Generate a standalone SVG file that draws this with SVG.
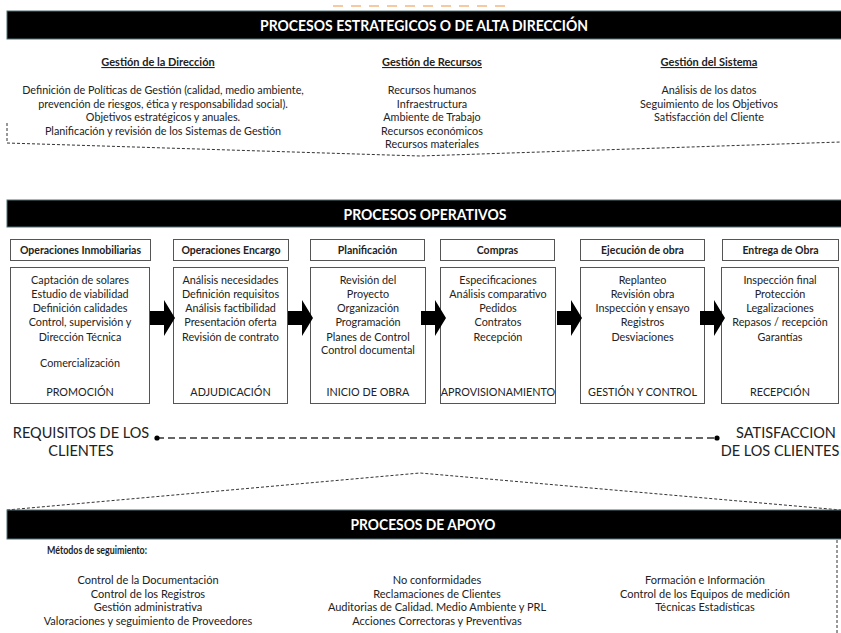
<svg xmlns="http://www.w3.org/2000/svg" width="841" height="633" viewBox="0 0 841 633">
<style>
text{font-family:Lato,"Open Sans","Liberation Sans",sans-serif;fill:#222;text-anchor:middle}
.t{font-size:10.8px}
.b{font-size:11px}
.h{font-size:11px;font-weight:bold;text-decoration:underline}
.hb{font-size:10.5px;font-weight:bold}
.ban{fill:#000;stroke:#4f6e75;stroke-width:1}
.bt{font-size:15px;font-weight:bold;fill:#fff}
.box{fill:#fff;stroke:#555;stroke-width:1}
.dash{fill:none;stroke:#333;stroke-width:1;stroke-dasharray:3,2}
.big{font-size:14.5px}
.arr{fill:#000}
</style>
<defs>
<path id="arrow" d="M0,-7 H14 V-18 L25,0 L14,18 V7 H0 Z"/>
</defs>
<rect width="841" height="633" fill="#fff"/>
<line x1="333" y1="6" x2="513" y2="6" stroke="#f7c9a0" stroke-width="2" stroke-dasharray="10,8"/>

<g id="estrategicos">
<rect class="ban" x="7" y="11" width="840" height="28"/>
<text class="bt" x="424" y="31" textLength="328" lengthAdjust="spacingAndGlyphs">PROCESOS ESTRATEGICOS O DE ALTA DIRECCIÓN</text>
</g>
<g id="gestion-direccion">
<text class="h" x="158" y="66">Gestión de la Dirección</text>
<text class="t" x="163" y="94">Definición de Políticas de Gestión (calidad, medio ambiente,</text>
<text class="t" x="163" y="107.5">prevención de riesgos, ética y responsabilidad social).</text>
<text class="t" x="163" y="121">Objetivos estratégicos y anuales.</text>
<text class="t" x="163" y="134.5">Planificación y revisión de los Sistemas de Gestión</text>
</g>
<g id="gestion-recursos">
<text class="h" x="432" y="66">Gestión de Recursos</text>
<text class="t" x="432" y="94">Recursos humanos</text>
<text class="t" x="432" y="107.5">Infraestructura</text>
<text class="t" x="432" y="121">Ambiente de Trabajo</text>
<text class="t" x="432" y="134.5">Recursos económicos</text>
<text class="t" x="432" y="148">Recursos materiales</text>
</g>
<g id="gestion-sistema">
<text class="h" x="709" y="66">Gestión del Sistema</text>
<text class="t" x="709" y="94">Análisis de los datos</text>
<text class="t" x="709" y="107.5">Seguimiento de los Objetivos</text>
<text class="t" x="709" y="121">Satisfacción del Cliente</text>
</g>

<g id="operativos">
<rect class="ban" x="7" y="200" width="840" height="27"/>
<text class="bt" x="425" y="220" textLength="163" lengthAdjust="spacingAndGlyphs">PROCESOS OPERATIVOS</text>
</g>

<g id="op-inmobiliarias">
<rect class="box" x="10.5" y="239.5" width="140" height="21"/>
<text class="hb" x="80.5" y="254">Operaciones Inmobiliarias</text>
<rect class="box" x="10.5" y="267.5" width="139" height="136"/>
<text class="t" x="80" y="284">Captación de solares</text>
<text class="t" x="80" y="298">Estudio de viabilidad</text>
<text class="t" x="80" y="312">Definición calidades</text>
<text class="t" x="80" y="326">Control, supervisión y</text>
<text class="t" x="80" y="340.5">Dirección Técnica</text>
<text class="t" x="80" y="367">Comercialización</text>
<text class="t" x="80" y="395.5">PROMOCIÓN</text>
</g>
<g id="op-encargo">
<rect class="box" x="173.5" y="239.5" width="115" height="21"/>
<text class="hb" x="231" y="254">Operaciones Encargo</text>
<rect class="box" x="173.5" y="267.5" width="114" height="136"/>
<text class="t" x="230.5" y="284">Análisis necesidades</text>
<text class="t" x="230.5" y="298">Definición requisitos</text>
<text class="t" x="230.5" y="312">Análisis factibilidad</text>
<text class="t" x="230.5" y="326">Presentación oferta</text>
<text class="t" x="230.5" y="340.5">Revisión de contrato</text>
<text class="t" x="230.5" y="395.5">ADJUDICACIÓN</text>
</g>
<g id="planificacion">
<rect class="box" x="310.5" y="239.5" width="114" height="21"/>
<text class="hb" x="367.5" y="254">Planificación</text>
<rect class="box" x="310.5" y="267.5" width="115" height="136"/>
<text class="t" x="368" y="284">Revisión del</text>
<text class="t" x="368" y="298">Proyecto</text>
<text class="t" x="368" y="312">Organización</text>
<text class="t" x="368" y="326">Programación</text>
<text class="t" x="368" y="340.5">Planes de Control</text>
<text class="t" x="368" y="354">Control documental</text>
<text class="t" x="368" y="395.5">INICIO DE OBRA</text>
</g>
<g id="compras">
<rect class="box" x="440.5" y="239.5" width="114" height="21"/>
<text class="hb" x="497.5" y="254">Compras</text>
<rect class="box" x="440.5" y="267.5" width="115" height="136"/>
<text class="t" x="498" y="284">Especificaciones</text>
<text class="t" x="498" y="298">Análisis comparativo</text>
<text class="t" x="498" y="312">Pedidos</text>
<text class="t" x="498" y="326">Contratos</text>
<text class="t" x="498" y="340.5">Recepción</text>
<text class="t" x="498" y="395.5">APROVISIONAMIENTO</text>
</g>
<g id="ejecucion">
<rect class="box" x="580.5" y="239.5" width="124" height="21"/>
<text class="hb" x="642.5" y="254">Ejecución de obra</text>
<rect class="box" x="580.5" y="267.5" width="124" height="136"/>
<text class="t" x="642.5" y="284">Replanteo</text>
<text class="t" x="642.5" y="298">Revisión obra</text>
<text class="t" x="642.5" y="312">Inspección y ensayo</text>
<text class="t" x="642.5" y="326">Registros</text>
<text class="t" x="642.5" y="340.5">Desviaciones</text>
<text class="t" x="642.5" y="395.5">GESTIÓN Y CONTROL</text>
</g>
<g id="entrega">
<rect class="box" x="722.5" y="239.5" width="116" height="21"/>
<text class="hb" x="780.5" y="254">Entrega de Obra</text>
<rect class="box" x="721.5" y="267.5" width="117" height="136"/>
<text class="t" x="780" y="284">Inspección final</text>
<text class="t" x="780" y="298">Protección</text>
<text class="t" x="780" y="312">Legalizaciones</text>
<text class="t" x="780" y="326">Repasos / recepción</text>
<text class="t" x="780" y="340.5">Garantías</text>
<text class="t" x="780" y="395.5">RECEPCIÓN</text>
</g>

<g id="connectors">
<use href="#arrow" class="arr" x="150" y="318"/>
<use href="#arrow" class="arr" x="288" y="318"/>
<use href="#arrow" class="arr" x="421" y="318"/>
<use href="#arrow" class="arr" x="557" y="318"/>
<use href="#arrow" class="arr" x="700" y="318"/>
<line x1="157" y1="438" x2="717" y2="438" stroke="#333" stroke-width="1.3" stroke-dasharray="7,4"/>
<circle cx="157" cy="438" r="2.6" fill="#000"/>
<circle cx="717" cy="438" r="2.6" fill="#000"/>
<path class="dash" d="M7,123 V143 L420,156 L841,142"/>
<path class="dash" d="M7,510 L420,473 L841,510"/>
<path class="dash" d="M837,540 V633"/>
</g>

<g id="requisitos">
<text class="big" x="81" y="438">REQUISITOS DE LOS</text>
<text class="big" x="81" y="456">CLIENTES</text>
</g>
<g id="satisfaccion">
<text class="big" x="786" y="438">SATISFACCION</text>
<text class="big" x="780" y="456">DE LOS CLIENTES</text>
</g>

<g id="apoyo">
<rect class="ban" x="7" y="510" width="840" height="29"/>
<text class="bt" x="423" y="530" textLength="145" lengthAdjust="spacingAndGlyphs">PROCESOS DE APOYO</text>
</g>
<g id="apoyo-col1">
<text class="hb" x="97" y="554" style="font-size:10.5px" textLength="100" lengthAdjust="spacingAndGlyphs">Métodos de seguimiento:</text>
<text class="b" x="148" y="584">Control de la Documentación</text>
<text class="b" x="148" y="597.5">Control de los Registros</text>
<text class="b" x="148" y="611">Gestión administrativa</text>
<text class="b" x="148" y="624.5">Valoraciones y seguimiento de Proveedores</text>
</g>
<g id="apoyo-col2">
<text class="b" x="437" y="584">No conformidades</text>
<text class="b" x="437" y="597.5">Reclamaciones de Clientes</text>
<text class="b" x="437" y="611">Auditorias de Calidad. Medio Ambiente y PRL</text>
<text class="b" x="437" y="624.5">Acciones Correctoras y Preventivas</text>
</g>
<g id="apoyo-col3">
<text class="b" x="705" y="584">Formación e Información</text>
<text class="b" x="705" y="597.5">Control de los Equipos de medición</text>
<text class="b" x="705" y="611">Técnicas Estadísticas</text>
</g>
</svg>
